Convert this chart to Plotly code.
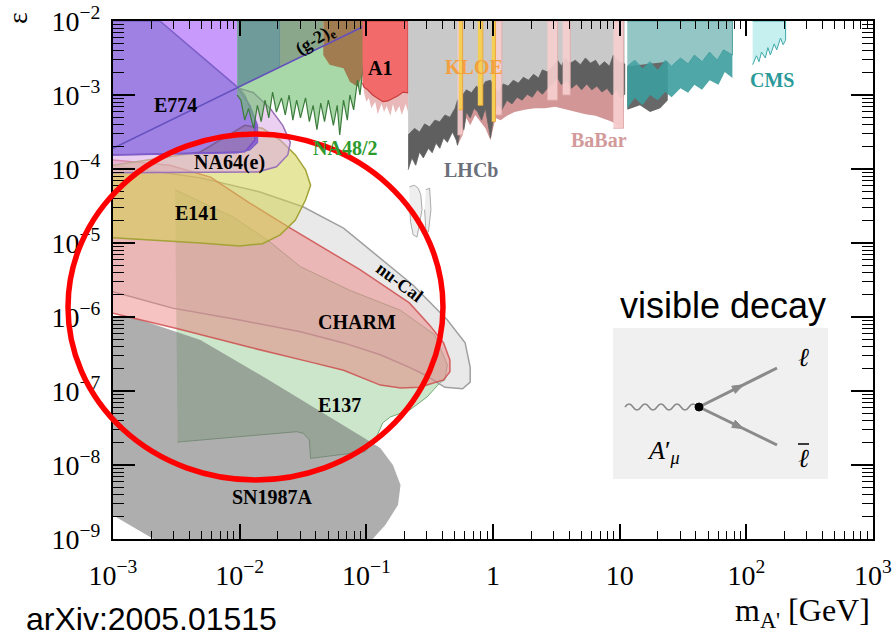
import numpy as np
import plotly.graph_objects as go

# ------------------------------------------------------------------
# Data: boundaries, given as
# log10(m_A' / GeV) and log10(epsilon)
# ------------------------------------------------------------------
sn_m = [-3.00, -2.83, -2.31, -1.78, -1.03, -0.89, -0.79, -0.73, -0.75, -0.85, -0.95, -2.68, -2.98, -3.00]
sn_e = [-6.00, -6.01, -6.31, -6.84, -7.62, -7.77, -8.00, -8.27, -8.54, -8.81, -9.00, -9.00, -8.70, -8.70]

e137_m = [-2.51, -2.05, -1.78, -1.52, -1.13, -0.73, -0.46, -0.36, -0.38, -0.42, -0.52, -0.66, -0.81, -0.87,
          -0.92, -1.01, -1.44, -1.45, -1.50, -1.55, -2.49]
e137_e = [-4.28, -4.65, -4.96, -5.32, -5.64, -5.91, -6.24, -6.65, -6.85, -6.89, -7.08, -7.26, -7.35, -7.43,
          -7.62, -7.82, -7.91, -7.66, -7.57, -7.55, -7.69]

nucal_m = [-3.00, -2.31, -1.84, -1.50, -1.18, -0.89, -0.63, -0.36, -0.22, -0.18, -0.18, -0.24, -0.38, -0.54,
           -0.66, -0.89, -1.18, -1.52, -2.00, -2.53, -3.00]
nucal_e = [-3.95, -4.12, -4.31, -4.51, -4.80, -5.20, -5.57, -6.04, -6.35, -6.68, -6.88, -6.97, -6.95, -6.78,
           -6.68, -6.51, -6.35, -6.20, -6.04, -5.88, -5.66]

charm_m = [-3.00, -2.55, -2.23, -1.92, -1.60, -1.31, -1.05, -0.66, -0.50, -0.39, -0.34, -0.34, -0.39, -0.58,
           -0.73, -0.89, -1.18, -1.44, -1.92, -2.49, -3.00]
charm_e = [-3.88, -3.95, -4.11, -4.46, -4.80, -5.09, -5.36, -5.81, -6.11, -6.35, -6.58, -6.74, -6.85, -6.95,
           -6.96, -6.92, -6.72, -6.61, -6.41, -6.16, -5.95]

e141_m = [-3.00, -2.31, -1.96, -1.82, -1.68, -1.56, -1.48, -1.44, -1.48, -1.56, -1.68, -1.82, -2.00, -2.31, -3.00]
e141_e = [-3.95, -3.77, -3.41, -3.45, -3.61, -3.81, -4.01, -4.22, -4.42, -4.69, -4.89, -5.01, -5.04, -5.00, -4.93]

na64_m = [-3.00, -1.96, -1.88, -1.88, -1.96, -2.00, -1.89, -1.76, -1.66, -1.60, -1.62, -1.71, -1.86, -3.00]
na64_e = [-3.81, -3.77, -3.61, -3.34, -3.00, -2.91, -2.97, -3.18, -3.41, -3.64, -3.81, -3.97, -4.04, -4.05]

e774_m = [-3.00, -2.63, -2.02, -1.92, -1.86, -1.86, -1.92, -2.02, -3.00]
e774_e = [-2.00, -2.00, -2.89, -3.14, -3.41, -3.64, -3.74, -3.78, -3.81]

violet_m = [-2.63, -2.02, -2.02]
violet_e = [-2.00, -2.00, -2.89]

g2_m = [-3.00, -0.97]
g2_e = [-3.72, -2.03]

teal1_m = [-2.02, -1.68, -1.68, -2.02]
teal1_e = [-2.00, -2.00, -2.62, -2.90]
graygreen_m = [-1.68, -1.34, -1.34, -1.68]
graygreen_e = [-2.00, -2.00, -2.34, -2.62]
brown_m = [-1.34, -0.99, -0.99, -1.03, -1.07, -1.13, -1.18, -1.29, -1.34]
brown_e = [-2.00, -2.00, -2.09, -2.73, -2.89, -2.82, -2.64, -2.59, -2.46]

na48_top_m = [-2.02, -0.99]
na48_top_e = [-2.90, -2.05]
na48_jag_m = [-0.99, -1.01, -1.03, -1.05, -1.07, -1.10, -1.13, -1.15, -1.18, -1.21, -1.23, -1.26, -1.30, -1.33,
              -1.36, -1.39, -1.42, -1.45, -1.48, -1.52, -1.55, -1.58, -1.61, -1.64, -1.67, -1.71, -1.74, -1.77,
              -1.80, -1.83, -1.86, -1.89, -1.93, -1.96, -1.99, -2.02]
na48_jag_e = [-2.09, -2.39, -2.66, -3.00, -2.80, -3.20, -3.00, -3.34, -3.07, -3.54, -3.14, -3.41, -3.07, -3.36,
              -3.11, -3.47, -3.14, -3.36, -3.04, -3.31, -3.07, -3.34, -3.00, -3.27, -3.04, -3.23, -2.96, -3.31,
              -3.07, -3.36, -3.14, -3.45, -3.18, -3.34, -3.07, -3.00]

a1_m = [-1.03, -0.67, -0.67, -0.71, -0.75, -0.79, -0.83, -0.87, -0.91, -0.95, -0.99, -1.02, -1.03]
a1_e = [-2.00, -2.00, -2.97, -2.96, -3.01, -3.05, -3.08, -3.09, -3.05, -3.00, -2.93, -2.89, -2.84]
a1low_m = [-1.02, -0.67, -0.67, -0.69, -0.72, -0.74, -0.77, -0.79, -0.81, -0.84, -0.86, -0.88, -0.91, -0.93,
           -0.96, -0.98, -1.00, -1.02]
a1low_e = [-2.89, -2.97, -3.23, -3.12, -3.27, -3.15, -3.24, -3.12, -3.28, -3.15, -3.23, -3.12, -3.26, -3.09,
           -3.18, -3.04, -3.09, -2.96]

lhcb_top_m = [-0.67, -0.62, -0.58, -0.54, -0.50, -0.46, -0.42, -0.38, -0.34, -0.30, -0.28, -0.24, -0.21, -0.17,
              -0.13, -0.10, -0.06, -0.02, 0.01, 0.04, 0.08, 0.12, 0.16, 0.20, 0.24, 0.28, 0.32, 0.36, 0.39, 0.43,
              0.47, 0.51, 0.54, 0.57, 0.61, 0.65, 0.69, 0.73, 0.77, 0.81, 0.84, 0.88, 0.92, 0.95, 0.99, 1.04]
lhcb_top_e = [-3.54, -3.45, -3.50, -3.39, -3.43, -3.34, -3.36, -3.27, -3.30, -3.18, -3.07, -3.00, -2.93, -2.97,
              -2.88, -2.93, -2.82, -2.80, -2.91, -2.96, -2.85, -2.88, -2.80, -2.84, -2.76, -2.80, -2.72, -2.77,
              -2.66, -2.69, -2.61, -2.53, -2.61, -2.50, -2.57, -2.53, -2.59, -2.50, -2.57, -2.53, -2.61, -2.55,
              -2.61, -2.46, -2.55, -2.58]
lhcb_bot_m = [-0.67, -0.64, -0.61, -0.58, -0.55, -0.51, -0.48, -0.45, -0.42, -0.39, -0.36, -0.32, -0.29, -0.28,
              -0.25, -0.23, -0.21, -0.18, -0.15, -0.12, -0.09, -0.06, -0.02, 0.01, 0.04, 0.07, 0.11, 0.15, 0.19,
              0.23, 0.27, 0.31, 0.35, 0.39, 0.43, 0.47, 0.51, 0.54, 0.58, 0.62, 0.66, 0.70, 0.74, 0.78, 0.82,
              0.86, 0.90, 0.94, 0.98, 1.01, 1.04]
lhcb_bot_e = [-4.01, -3.85, -3.95, -3.77, -3.85, -3.72, -3.78, -3.65, -3.72, -3.58, -3.64, -3.50, -3.61, -3.68,
              -3.41, -3.47, -3.23, -3.31, -3.18, -3.23, -3.34, -3.18, -3.58, -3.23, -3.12, -3.20, -3.07, -3.12,
              -3.03, -3.07, -2.99, -3.03, -2.93, -2.99, -2.91, -2.85, -2.77, -2.86, -2.80, -2.91, -2.85, -2.93,
              -2.85, -2.93, -2.88, -2.96, -2.91, -3.00, -2.93, -3.04, -2.99]

babar_m = [1.03, 0.99, 0.94, 0.88, 0.81, 0.73, 0.65, 0.57, 0.49, 0.41, 0.33, 0.25, 0.17, 0.11, 0.06, 0.02,
           -0.02, -0.06, -0.10, -0.14, -0.18, -0.21, -0.24, -0.28]
babar_e = [-3.45, -3.43, -3.36, -3.32, -3.28, -3.26, -3.23, -3.20, -3.16, -3.18, -3.18, -3.20, -3.23, -3.28,
           -3.34, -3.31, -3.61, -3.45, -3.36, -3.27, -3.41, -3.31, -3.54, -3.68]

veto_m0 = [-0.28, 0.02, 0.43, 0.55, 0.95]
veto_m1 = [-0.24, 0.07, 0.51, 0.61, 1.03]
veto_low = [-3.54, -3.27, -3.07, -3.00, -3.45]

kloe_m0 = [-0.27, -0.12, -0.01]
kloe_m1 = [-0.24, -0.08, 0.02]
kloe_low = [-3.20, -3.14, -3.36]

hm_top_m = [1.06, 1.12, 1.18, 1.24, 1.30, 1.36, 1.41, 1.48, 1.54, 1.59, 1.65, 1.71, 1.77, 1.82, 1.89]
hm_top_e = [-2.61, -2.53, -2.64, -2.55, -2.66, -2.53, -2.61, -2.50, -2.58, -2.46, -2.55, -2.42, -2.53, -2.39, -2.46]
hm_bot_m = [1.89, 1.83, 1.78, 1.71, 1.65, 1.59, 1.54, 1.48, 1.41, 1.36, 1.30, 1.24, 1.18, 1.12, 1.06]
hm_bot_e = [-2.77, -2.69, -2.86, -2.80, -2.93, -2.86, -2.97, -2.91, -3.03, -2.96, -3.07, -3.00, -3.14, -3.04, -3.18]
hm_gray_m = [1.06, 1.38, 1.38, 1.32, 1.24, 1.16, 1.06]
hm_gray_e = [-2.61, -2.55, -3.07, -3.18, -3.23, -3.14, -3.20]

cms_m = [2.05, 2.31, 2.31, 2.29, 2.27, 2.24, 2.22, 2.19, 2.17, 2.15, 2.12, 2.10, 2.08, 2.05]
cms_e = [-2.00, -2.00, -2.26, -2.32, -2.23, -2.39, -2.31, -2.46, -2.36, -2.50, -2.42, -2.55, -2.47, -2.59]

disp1_m = [-0.66, -0.62, -0.59, -0.57, -0.56, -0.58, -0.60, -0.63, -0.65, -0.66]
disp1_e = [-4.24, -4.22, -4.26, -4.35, -4.55, -4.76, -4.92, -4.89, -4.72, -4.49]
disp2_m = [-0.53, -0.50, -0.49, -0.51, -0.53, -0.54]
disp2_e = [-4.28, -4.26, -4.55, -4.85, -4.82, -4.55]

x_tickvals = [1e-3, 1e-2, 1e-1, 1, 10, 1e2, 1e3]
x_ticktext = ["10<sup>−3</sup>", "10<sup>−2</sup>", "10<sup>−1</sup>", "1", "10", "10<sup>2</sup>", "10<sup>3</sup>"]
y_tickvals = [1e-9, 1e-8, 1e-7, 1e-6, 1e-5, 1e-4, 1e-3, 1e-2]
y_ticktext = ["10<sup>−9</sup>", "10<sup>−8</sup>", "10<sup>−7</sup>", "10<sup>−6</sup>",
              "10<sup>−5</sup>", "10<sup>−4</sup>", "10<sup>−3</sup>", "10<sup>−2</sup>"]

# ------------------------------------------------------------------
fig = go.Figure()


def _p(v):
    return np.power(10.0, np.asarray(v, dtype=float))


def region(lm, le, fill, line="rgba(0,0,0,0)", width=0.0):
    fig.add_trace(go.Scatter(x=_p(lm), y=_p(le), mode="lines", fill="toself", fillcolor=fill,
                             line=dict(color=line, width=width), hoverinfo="skip", showlegend=False))


def curve(lm, le, color, width):
    fig.add_trace(go.Scatter(x=_p(lm), y=_p(le), mode="lines", line=dict(color=color, width=width),
                             hoverinfo="skip", showlegend=False))


region(e137_m, e137_e, "rgba(140,200,140,0.45)", "rgba(90,150,90,0.8)", 1)
region(sn_m, sn_e, "rgba(120,120,120,0.6)")
region(nucal_m, nucal_e, "rgba(200,200,200,0.4)", "#a0a0a0", 1.5)
region(charm_m, charm_e, "rgba(235,120,120,0.45)", "rgba(205,70,70,0.8)", 1.5)
region(e141_m, e141_e, "rgba(210,210,80,0.55)", "#a3a336", 1.5)
region(na64_m, na64_e, "rgba(220,170,230,0.55)", "#9a72b8", 1.5)
region(violet_m, violet_e, "rgba(170,100,250,0.65)")
region(e774_m, e774_e, "rgba(100,50,210,0.62)", "#7c5fc9", 1.5)
region(teal1_m, teal1_e, "#6f9c9b", "#4f7f7f", 1)
region(graygreen_m, graygreen_e, "#8aa78b")
region(na48_top_m + na48_jag_m, na48_top_e + na48_jag_e, "rgba(110,190,110,0.6)")
region(brown_m, brown_e, "#a07c50")
curve(na48_jag_m, na48_jag_e, "#3b7b3b", 1.2)
curve(g2_m, g2_e, "rgb(100,80,190)", 1.6)
region(a1low_m, a1low_e, "rgba(225,160,160,0.75)")
region(a1_m, a1_e, "#f26a6a", "#c83c3c", 1.2)

region([lhcb_top_m[0], lhcb_top_m[-1]] + lhcb_top_m[::-1], [-2.0, -2.0] + lhcb_top_e[::-1], "#c9c9c9")
region(lhcb_top_m[10:] + babar_m, lhcb_top_e[10:] + babar_e, "#d29696")
region(lhcb_top_m + lhcb_bot_m[::-1], lhcb_top_e + lhcb_bot_e[::-1], "#5f5f5f", "#5f5f5f", 0.8)
for a, b, lo in zip(veto_m0, veto_m1, veto_low):
    region([a, b, b, a], [-2.0, -2.0, lo, lo], "rgba(246,206,206,0.92)", "#e0a8a8", 0.8)
for a, b, lo in zip(kloe_m0, kloe_m1, kloe_low):
    region([a, b, b, a], [-2.0, -2.0, lo, lo], "#f5cf55", "#e8a030", 0.8)

region([hm_top_m[0], hm_top_m[-1]] + hm_top_m[::-1], [-2.0, -2.0] + hm_top_e[::-1], "#94c6c6", "#4aa0a0", 1)
region(hm_gray_m, hm_gray_e, "#686868")
region(hm_top_m + hm_bot_m, hm_top_e + hm_bot_e, "rgba(60,157,157,0.9)")
region(cms_m, cms_e, "#c6eff0", "#40aaaa", 1)
region(disp1_m, disp1_e, "#eeeeee", "#aaaaaa", 1)
region(disp2_m, disp2_e, "#eeeeee", "#aaaaaa", 1)

# ------------------------------------------------------------------
serif = "Liberation Serif"
sans = "Liberation Sans"

ann = []


def label(text, lx, ly, color="black", size=20, angle=0):
    ann.append(dict(text="<b>%s</b>" % text, x=lx, y=ly, xref="x", yref="y", showarrow=False,
                    font=dict(family=serif, size=size, color=color), textangle=angle,
                    xanchor="center", yanchor="middle"))


label("E774", -2.51, -3.14)
label("NA64(e)", -2.08, -3.91)
label("E141", -2.34, -4.59)
label("CHARM", -1.07, -6.07)
label("nu-Cal", -0.74, -5.53, size=18, angle=37)
label("E137", -1.21, -7.19)
label("SN1987A", -1.74, -8.43)
label("A1", -0.89, -2.64)
label("(g-2)<sub>e</sub>", -1.40, -2.27, size=18, angle=-32)
label("NA48/2", -1.17, -3.72, color="#2d9a2d")
label("KLOE", -0.15, -2.62, color="#f5a040")
label("LHCb", -0.17, -4.01, color="#6b6f7a")
label("BaBar", 0.84, -3.61, color="#d29a9a")
label("CMS", 2.20, -2.80, color="#2a9a9a")

# ---- decorative overlay (page positions) ----
W, L, T, H = 760.0, 113.0, 21.0, 518.0


def PX(x):
    return (x - L) / W


def PY(y):
    return (T + H - y) / H


ann.append(dict(text="ε", x=PX(18), y=PY(18), xref="paper", yref="paper", showarrow=False,
                textangle=-90, font=dict(family=serif, size=28, color="black"),
                xanchor="center", yanchor="middle"))
ann.append(dict(text="m<sub>A'</sub> [GeV]", x=PX(872), y=PY(612), xref="paper", yref="paper",
                showarrow=False, font=dict(family=serif, size=32, color="black"),
                xanchor="right", yanchor="middle"))
ann.append(dict(text="arXiv:2005.01515", x=PX(24), y=PY(619), xref="paper", yref="paper",
                showarrow=False, font=dict(family=sans, size=32, color="black"),
                xanchor="left", yanchor="middle"))
ann.append(dict(text="visible decay", x=PX(723), y=PY(305), xref="paper", yref="paper",
                showarrow=False, font=dict(family=sans, size=36, color="black"),
                xanchor="center", yanchor="middle"))
ann.append(dict(text="<i>ℓ</i>", x=PX(803), y=PY(358), xref="paper", yref="paper", showarrow=False,
                font=dict(family=serif, size=26, color="black"), xanchor="center", yanchor="middle"))
ann.append(dict(text="<i>ℓ</i>", x=PX(803), y=PY(458), xref="paper", yref="paper", showarrow=False,
                font=dict(family=serif, size=26, color="black"), xanchor="center", yanchor="middle"))
ann.append(dict(text="<i>A</i>′<sub><i>μ</i></sub>", x=PX(663), y=PY(452), xref="paper", yref="paper",
                showarrow=False, font=dict(family=serif, size=26, color="black"),
                xanchor="center", yanchor="middle"))

shapes = []
# inset panel
shapes.append(dict(type="rect", xref="paper", yref="paper", x0=PX(613), x1=PX(828), y0=PY(479), y1=PY(328),
                   fillcolor="#f0f0f0", line=dict(width=0), layer="above"))
# wavy photon line
wx, wy = 625.0, 407.0
path = "M %.5f,%.5f" % (PX(wx), PY(wy))
for i in range(9):
    s = -1 if i % 2 == 0 else 1
    path += " Q %.5f,%.5f %.5f,%.5f" % (PX(wx + 4), PY(wy + 6 * s), PX(wx + 8), PY(wy))
    wx += 8
shapes.append(dict(type="path", path=path, xref="paper", yref="paper", line=dict(color="#8a8a8a", width=1.6)))
vx, vy = 699.0, 407.0
for ex, ey in [(777.0, 368.0), (777.0, 445.0)]:
    shapes.append(dict(type="line", xref="paper", yref="paper", x0=PX(vx), y0=PY(vy), x1=PX(ex), y1=PY(ey),
                       line=dict(color="#8a8a8a", width=3)))
    mx, my = (vx + ex) / 2, (vy + ey) / 2
    dx, dy = ex - vx, ey - vy
    n = (dx * dx + dy * dy) ** 0.5
    ux, uy = dx / n, dy / n
    px_, py_ = -uy, ux
    tip = (mx + 6 * ux, my + 6 * uy)
    b1 = (mx - 5 * ux + 4 * px_, my - 5 * uy + 4 * py_)
    b2 = (mx - 5 * ux - 4 * px_, my - 5 * uy - 4 * py_)
    tri = "M %.5f,%.5f L %.5f,%.5f L %.5f,%.5f Z" % (PX(tip[0]), PY(tip[1]), PX(b1[0]), PY(b1[1]),
                                                      PX(b2[0]), PY(b2[1]))
    shapes.append(dict(type="path", path=tri, xref="paper", yref="paper", fillcolor="#8a8a8a",
                       line=dict(color="#8a8a8a", width=1)))
shapes.append(dict(type="circle", xref="paper", yref="paper", x0=PX(vx - 4), x1=PX(vx + 4),
                   y0=PY(vy + 4), y1=PY(vy - 4), fillcolor="black", line=dict(color="black", width=1)))
# bar over the anti-lepton
shapes.append(dict(type="line", xref="paper", yref="paper", x0=PX(798), x1=PX(809), y0=PY(444), y1=PY(444),
                   line=dict(color="black", width=1.5)))
# red highlight ellipse
shapes.append(dict(type="circle", xref="paper", yref="paper", x0=PX(68), x1=PX(443), y0=PY(480), y1=PY(134),
                   line=dict(color="#ff0000", width=5.5), fillcolor="rgba(0,0,0,0)", layer="above"))

x_minor = [k * 10.0 ** d for d in range(-3, 3) for k in range(2, 10)]
y_minor = [k * 10.0 ** d for d in range(-9, -2) for k in range(2, 10)]

axis_common = dict(type="log", showgrid=False, zeroline=False, showline=True, linecolor="black",
                   linewidth=2.2, mirror="allticks", ticks="inside", tickcolor="black", automargin=False,
                   tickfont=dict(family=serif, size=28, color="black"))

fig.update_layout(
    width=894, height=636, autosize=False,
    margin=dict(l=113, r=21, t=21, b=97, autoexpand=False),
    paper_bgcolor="white", plot_bgcolor="white", showlegend=False,
    xaxis=dict(axis_common, range=[-3, 3], tickvals=x_tickvals, ticktext=x_ticktext, ticklen=15,
               tickwidth=1.6, ticklabelstandoff=10,
               minor=dict(ticks="inside", ticklen=8, tickwidth=1.2, tickcolor="black", tickvals=x_minor,
                          showgrid=False)),
    yaxis=dict(axis_common, range=[-9, -2], tickvals=y_tickvals, ticktext=y_ticktext, ticklen=22,
               tickwidth=1.6, ticklabelstandoff=5,
               minor=dict(ticks="inside", ticklen=11, tickwidth=1.2, tickcolor="black", tickvals=y_minor,
                          showgrid=False)),
    annotations=ann,
    shapes=shapes,
)

fig.write_html("out.html", config={"responsive": False})
